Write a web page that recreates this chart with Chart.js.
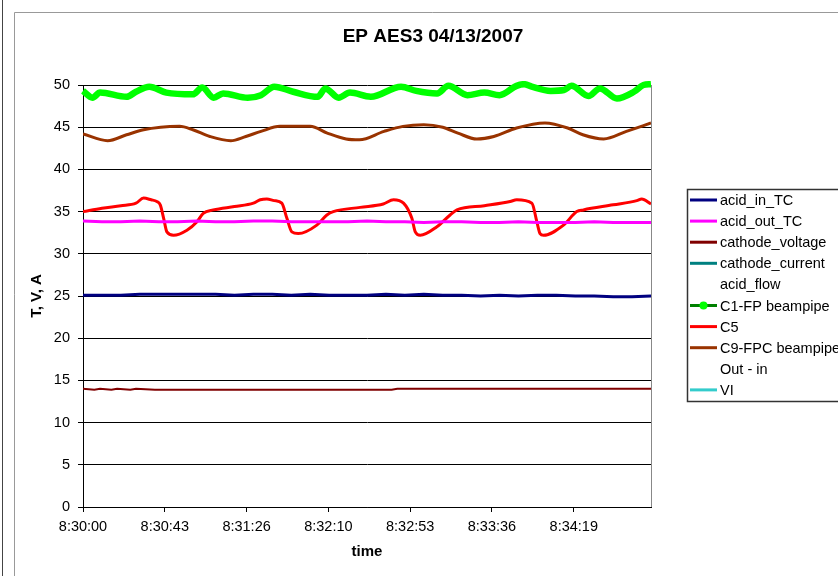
<!DOCTYPE html>
<html>
<head>
<meta charset="utf-8">
<title>EP AES3 04/13/2007</title>
<script src="https://cdn.jsdelivr.net/npm/chart.js@4.4.1/dist/chart.umd.min.js"></script>
<style>
  html, body { margin: 0; padding: 0; background: #fff; overflow: hidden; }
  #wrap { position: relative; width: 850px; height: 576px; }
</style>
</head>
<body>
<div id="wrap"><canvas id="chart" width="850" height="576"></canvas></div>
<script>
/* EP AES3 04/13/2007 : temperatures / voltage over 5 minutes (x = seconds after 8:30:00) */

var seriesNames = ['acid_in_TC', 'acid_out_TC', 'cathode_voltage', 'cathode_current', 'acid_flow',
                   'C1-FP beampipe', 'C5', 'C9-FPC beampipe', 'Out - in', 'VI'];

var tickSeconds = [0, 43.2, 86.4, 129.6, 172.8, 216, 259.2];
var tickLabels = ['8:30:00', '8:30:43', '8:31:26', '8:32:10', '8:32:53', '8:33:36', '8:34:19'];

/* flat, noisy channels sampled every 10 s */
var flatTimes = [0, 10, 20, 30, 40, 50, 60, 70, 80, 90, 100, 110, 120, 130, 140, 150,
                 160, 170, 180, 190, 200, 210, 220, 230, 240, 250, 260, 270, 280, 290, 300];
var acidIn = [25.1, 25.1, 25.1, 25.2, 25.2, 25.2, 25.2, 25.2, 25.1, 25.2, 25.2, 25.1, 25.2, 25.1, 25.1, 25.1,
              25.2, 25.1, 25.2, 25.1, 25.1, 25.0, 25.1, 25.0, 25.1, 25.1, 25.0, 25.0, 24.9, 24.9, 25.0];
var acidOut = [33.9, 33.8, 33.8, 33.9, 33.8, 33.8, 33.9, 33.8, 33.8, 33.9, 33.9, 33.8, 33.8, 33.8, 33.8, 33.9,
               33.8, 33.8, 33.7, 33.8, 33.8, 33.7, 33.7, 33.8, 33.7, 33.7, 33.7, 33.8, 33.7, 33.7, 33.7];

var voltTimes = [0, 6, 9, 15, 18, 25, 28, 38, 163, 166, 300];
var voltage = [14.0, 13.9, 14.0, 13.9, 14.0, 13.9, 14.0, 13.9, 13.9, 14.0, 14.0];

var c1Times = [0, 5, 9, 23, 28, 35, 44, 58, 63, 69, 74, 87, 94, 101, 111, 124, 128, 135, 141, 152,
               168, 176, 187, 193, 203, 212, 220, 229, 233, 237, 247, 254, 258, 267, 273, 282, 291, 296, 300];
var c1 = [49.3, 48.5, 49.1, 48.6, 49.2, 49.8, 49.1, 48.9, 49.7, 48.5, 49.0, 48.5, 48.8, 49.8, 49.2, 48.6, 49.6, 48.5, 49.1, 48.6,
          49.8, 49.3, 49.0, 49.9, 48.8, 49.1, 48.8, 49.9, 50.1, 49.8, 49.3, 49.4, 49.9, 48.7, 49.6, 48.4, 49.2, 50.0, 50.1];

var c5Times = [0, 10, 20, 28, 32, 36, 39, 40.8, 42.6, 44.3, 47.8, 54.9, 60.2, 63.5, 68.8, 80, 90, 93.6, 97.1, 101,
               105, 107.7, 110.3, 113.7, 123.5, 128.8, 132.2, 146.4, 158.6, 164, 169.3, 173.7, 175.5, 178.1, 186.9,
               193.9, 197.5, 212, 225.6, 229.1, 237.1, 239.7, 241.4, 243.2, 253.8, 260.8, 264.3, 280, 292.5, 295.1, 300];
var c5 = [35.0, 35.4, 35.7, 36.0, 36.6, 36.4, 36.2, 35.8, 34.2, 32.6, 32.2, 32.8, 33.8, 34.8, 35.2, 35.6, 36.0, 36.4, 36.5, 36.3,
          36.0, 34.2, 32.6, 32.4, 33.4, 34.6, 35.0, 35.5, 35.9, 36.4, 36.0, 34.2, 32.6, 32.2, 33.2,
          34.6, 35.2, 35.7, 36.2, 36.4, 36.0, 33.8, 32.4, 32.2, 33.4, 35.0, 35.2, 35.8, 36.3, 36.5, 35.9];

var c9Times = [0, 13, 23, 32, 41, 51, 58, 67, 78, 86, 94, 104, 120, 129, 139, 146, 159, 169, 180, 190,
               198, 208, 217, 229, 244, 256, 264, 275, 287, 300];
var c9 = [44.2, 43.4, 44.1, 44.7, 45.0, 45.1, 44.7, 43.9, 43.4, 43.9, 44.5, 45.1, 45.1, 44.3, 43.6, 43.5, 44.5, 45.1, 45.3, 45.0,
          44.3, 43.6, 43.9, 44.9, 45.5, 44.9, 44.1, 43.6, 44.5, 45.5];

var FONT = '"Liberation Sans", Arial, sans-serif';

function pts(times, vals) {
  return times.map(function (t, i) { return { x: t, y: vals[i] }; });
}

/* legend line colour per series (null = no symbol) */
var legendColors = ['#000080', '#ff00ff', '#800000', '#008080', null, '#008000', '#ff0000', '#993300', null, '#33cccc'];

function ds(i, data, color, width, extra) {
  var d = { label: seriesNames[i], data: data, borderColor: color, backgroundColor: color,
            borderWidth: width, pointRadius: 0, fill: false, tension: 0 };
  for (var k in extra || {}) d[k] = extra[k];
  return d;
}

var datasets = [
  ds(0, pts(flatTimes, acidIn), '#000080', 3),
  ds(1, pts(flatTimes, acidOut), '#ff00ff', 3),
  ds(2, pts(voltTimes, voltage), '#800000', 2),
  ds(3, [], '#008080', 2),
  ds(4, [], 'rgba(0,0,0,0)', 0),
  ds(5, pts(c1Times, c1), '#00ff00', 6.5, { cubicInterpolationMode: 'monotone', clip: 4 }),
  ds(6, pts(c5Times, c5), '#ff0000', 3, { cubicInterpolationMode: 'monotone' }),
  ds(7, pts(c9Times, c9), '#993300', 3, { cubicInterpolationMode: 'monotone' }),
  ds(8, [], 'rgba(0,0,0,0)', 0),
  ds(9, [], '#33cccc', 2),
];

/* frame, title, plot border and legend */
var decor = {
  id: 'decor',
  beforeDraw: function (c) {
    var ctx = c.ctx;
    ctx.save();
    ctx.fillStyle = '#fff';
    ctx.fillRect(0, 0, c.width, c.height);
    ctx.strokeStyle = '#444'; ctx.lineWidth = 1;
    ctx.beginPath(); ctx.moveTo(2.5, 0); ctx.lineTo(2.5, 576); ctx.stroke();
    ctx.strokeStyle = '#999';
    ctx.beginPath(); ctx.moveTo(14.5, 576); ctx.lineTo(14.5, 12.5); ctx.lineTo(850, 12.5); ctx.stroke();
    ctx.restore();
  },
  afterDraw: function (c) {
    var ctx = c.ctx, a = c.chartArea;
    ctx.save();
    ctx.strokeStyle = '#888'; ctx.lineWidth = 1;
    ctx.beginPath(); ctx.moveTo(Math.round(a.right) + 0.5, a.top); ctx.lineTo(Math.round(a.right) + 0.5, a.bottom); ctx.stroke();

    ctx.fillStyle = '#000';
    ctx.font = 'bold 19px ' + FONT;
    ctx.textAlign = 'center'; ctx.textBaseline = 'middle';
    ctx.fillText('EP AES3 04/13/2007', 433, 37);

    ctx.strokeStyle = '#333'; ctx.lineWidth = 1.5;
    ctx.strokeRect(687.5, 189.5, 200, 212);
    ctx.font = '14.5px ' + FONT;
    ctx.textAlign = 'left';
    seriesNames.forEach(function (name, i) {
      var y = 200 + i * 21.1;
      if (legendColors[i]) {
        ctx.strokeStyle = legendColors[i]; ctx.lineWidth = 3;
        ctx.beginPath(); ctx.moveTo(690, y); ctx.lineTo(717, y); ctx.stroke();
      }
      if (i === 5) {
        ctx.fillStyle = '#00ff00';
        ctx.beginPath(); ctx.arc(703.5, y, 4, 0, Math.PI * 2); ctx.fill();
      }
      ctx.fillStyle = '#000';
      ctx.fillText(name, 720, y + 1);
    });
    ctx.restore();
  }
};

new Chart(document.getElementById('chart').getContext('2d'), {
  type: 'line',
  data: { datasets: datasets },
  plugins: [decor],
  options: {
    responsive: false, animation: false,
    layout: { padding: { left: 17, right: 199, top: 85, bottom: 0 } },
    plugins: { legend: { display: false }, title: { display: false }, tooltip: { enabled: false } },
    scales: {
      x: {
        type: 'linear', min: 0, max: 300,
        afterBuildTicks: function (s) { s.ticks = tickSeconds.map(function (v) { return { value: v }; }); },
        afterFit: function (s) { s.height = 69; },
        ticks: { autoSkip: false, maxRotation: 0, padding: 6, color: '#000', font: { family: FONT, size: 14.5 },
                 callback: function (v, i) { return tickLabels[i]; } },
        grid: { drawOnChartArea: false, drawTicks: true, tickLength: 5, color: '#000' },
        border: { display: true, color: '#000', width: 1 },
        title: { display: true, text: 'time', color: '#000', font: { family: FONT, size: 15, weight: 'bold' },
                 padding: { top: 0, bottom: 15 } }
      },
      y: {
        min: 0, max: 50,
        afterFit: function (s) { s.width = 66; },
        ticks: { stepSize: 5, padding: 8, color: '#000', font: { family: FONT, size: 14.5 } },
        grid: { color: '#000', drawTicks: true, tickLength: 5 },
        border: { display: true, color: '#000', width: 1 },
        title: { display: true, text: 'T, V, A', color: '#000', font: { family: FONT, size: 15, weight: 'bold' },
                 padding: { top: 11, bottom: 0 } }
      }
    }
  }
});
</script>
</body>
</html>
